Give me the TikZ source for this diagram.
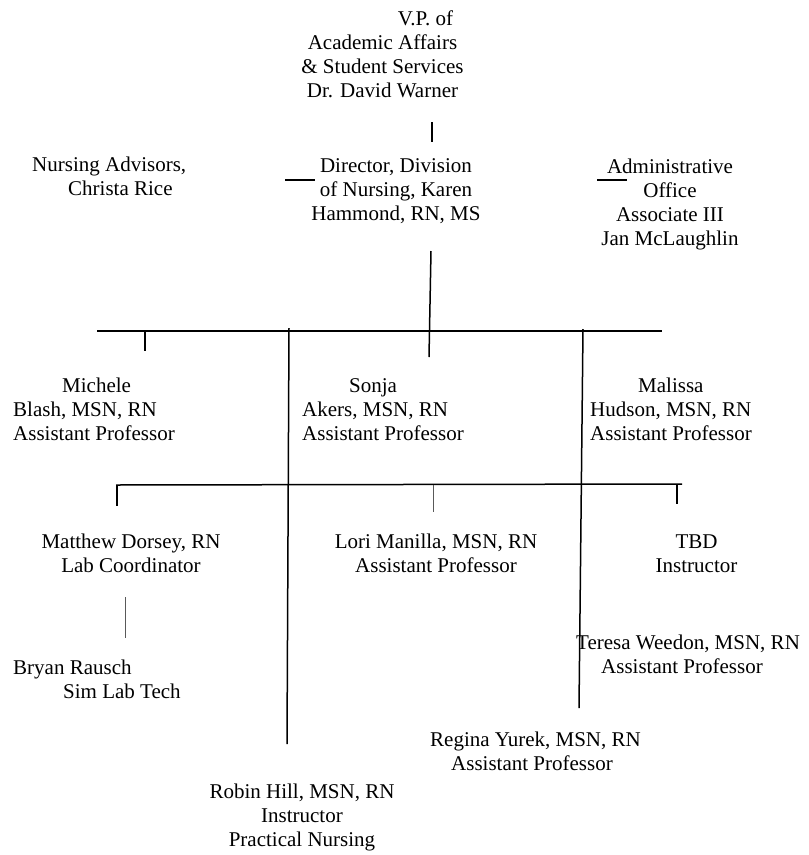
\documentclass[tikz,border=0pt]{standalone}
\usepackage{fontspec}
\setmainfont{Liberation Serif}
\usetikzlibrary{positioning}
\tikzset{
  staff/.style={font=\fontsize{21}{24}\selectfont, inner sep=0pt, anchor=base},
  staffc/.style={staff, align=center},
  staffl/.style={staff, align=left, anchor=base west},
  bar/.style={line width=1.5pt},
  thinbar/.style={line width=1pt, black!65},
}

\begin{document}
\begin{tikzpicture}[x=1pt,y=-1pt]
  \useasboundingbox (0,0) rectangle (809,855);

  %% top level (nodes sit on the baseline of their last line)
  \node[staffc] (vp)  at (382.5, 97) {\hspace*{86pt}V.P. of\\Academic Affairs\\\& Student Services\\Dr. David Warner};
  \node[staffl] (nadv) at (32, 195) {Nursing Advisors,\\\hspace*{36pt}Christa Rice};
  \node[staffc] (dir) at (396, 220) {Director, Division\\of Nursing, Karen\\Hammond, RN, MS};
  \node[staffc] (adm) at (670, 245) {Administrative\\Office\\Associate III\\Jan McLaughlin};

  %% faculty row
  \node[staffl] (mich)  at (13, 440)  {\hspace*{49pt}Michele\\Blash, MSN, RN\\Assistant Professor};
  \node[staffl] (sonja) at (302, 440) {\hspace*{47pt}Sonja\\Akers, MSN, RN\\Assistant Professor};
  \node[staffl] (mal)   at (590, 440) {\hspace*{48pt}Malissa\\Hudson, MSN, RN\\Assistant Professor};

  %% second row
  \node[staffc] (matt) at (131, 572)   {Matthew Dorsey, RN\\Lab Coordinator};
  \node[staffc] (lori) at (436, 572)   {Lori Manilla, MSN, RN\\Assistant Professor};
  \node[staffc] (tbd)  at (696.5, 572) {TBD\\Instructor};

  %% bottom
  \node[staffl] (bryan)  at (13, 698)  {Bryan Rausch\\\hspace*{50pt}Sim Lab Tech};
  \node[staffl] (teresa) at (576, 673) {Teresa Weedon, MSN, RN\\\hspace*{25pt}Assistant Professor};
  \node[staffl] (regina) at (430, 770) {Regina Yurek, MSN, RN\\\hspace*{21pt}Assistant Professor};
  \node[staffc] (robin)  at (302, 846) {Robin Hill, MSN, RN\\Instructor\\Practical Nursing};

  %% line ends
  \coordinate (vpT) at (432,122);   \coordinate (vpB) at (432,142);
  \coordinate (dirL) at (285,180);  \coordinate (dirR) at (315,180);
  \coordinate (admL) at (597,180);  \coordinate (admR) at (627,180);
  \coordinate (dirT) at (431,251);  \coordinate (dirB) at (429,357);
  \coordinate (busL) at (97,331);   \coordinate (busR) at (662,331);
  \coordinate (michT) at (145,331); \coordinate (michB) at (145,351);
  \coordinate (robT) at (289,328);  \coordinate (robB) at (287,744);
  \coordinate (regT) at (583,329);  \coordinate (regB) at (579,708);
  \coordinate (subL) at (116,485);  \coordinate (subR) at (682,484);
  \coordinate (matT) at (117,485);  \coordinate (matB) at (117,506);
  \coordinate (lorT) at (433,485);  \coordinate (lorB) at (433,512);
  \coordinate (tbdT) at (677,484);  \coordinate (tbdB) at (677,504);
  \coordinate (bryT) at (125,597);  \coordinate (bryB) at (125,638);

  \draw[bar] (vpT) -- (vpB);     % VP -> Director
  \draw[bar] (dirL) -- (dirR);   % advisors stub
  \draw[bar] (admL) -- (admR);   % admin stub
  \draw[bar] (dirT) -- (dirB);   % Director -> faculty
  \draw[bar] (busL) -- (busR);   %% faculty bus
  \draw[bar] (michT) -- (michB);
  \draw[bar] (robT) -- (robB);   % -> Robin
  \draw[bar] (regT) -- (regB);   % -> Regina
  \draw[bar] (subL) -- (subR);   %% second bus
  \draw[bar] (matT) -- (matB);
  \draw[thinbar] (lorT) -- (lorB);
  \draw[bar] (tbdT) -- (tbdB);
  \draw[thinbar] (bryT) -- (bryB); % Matthew -> Bryan

\end{tikzpicture}
\end{document}
